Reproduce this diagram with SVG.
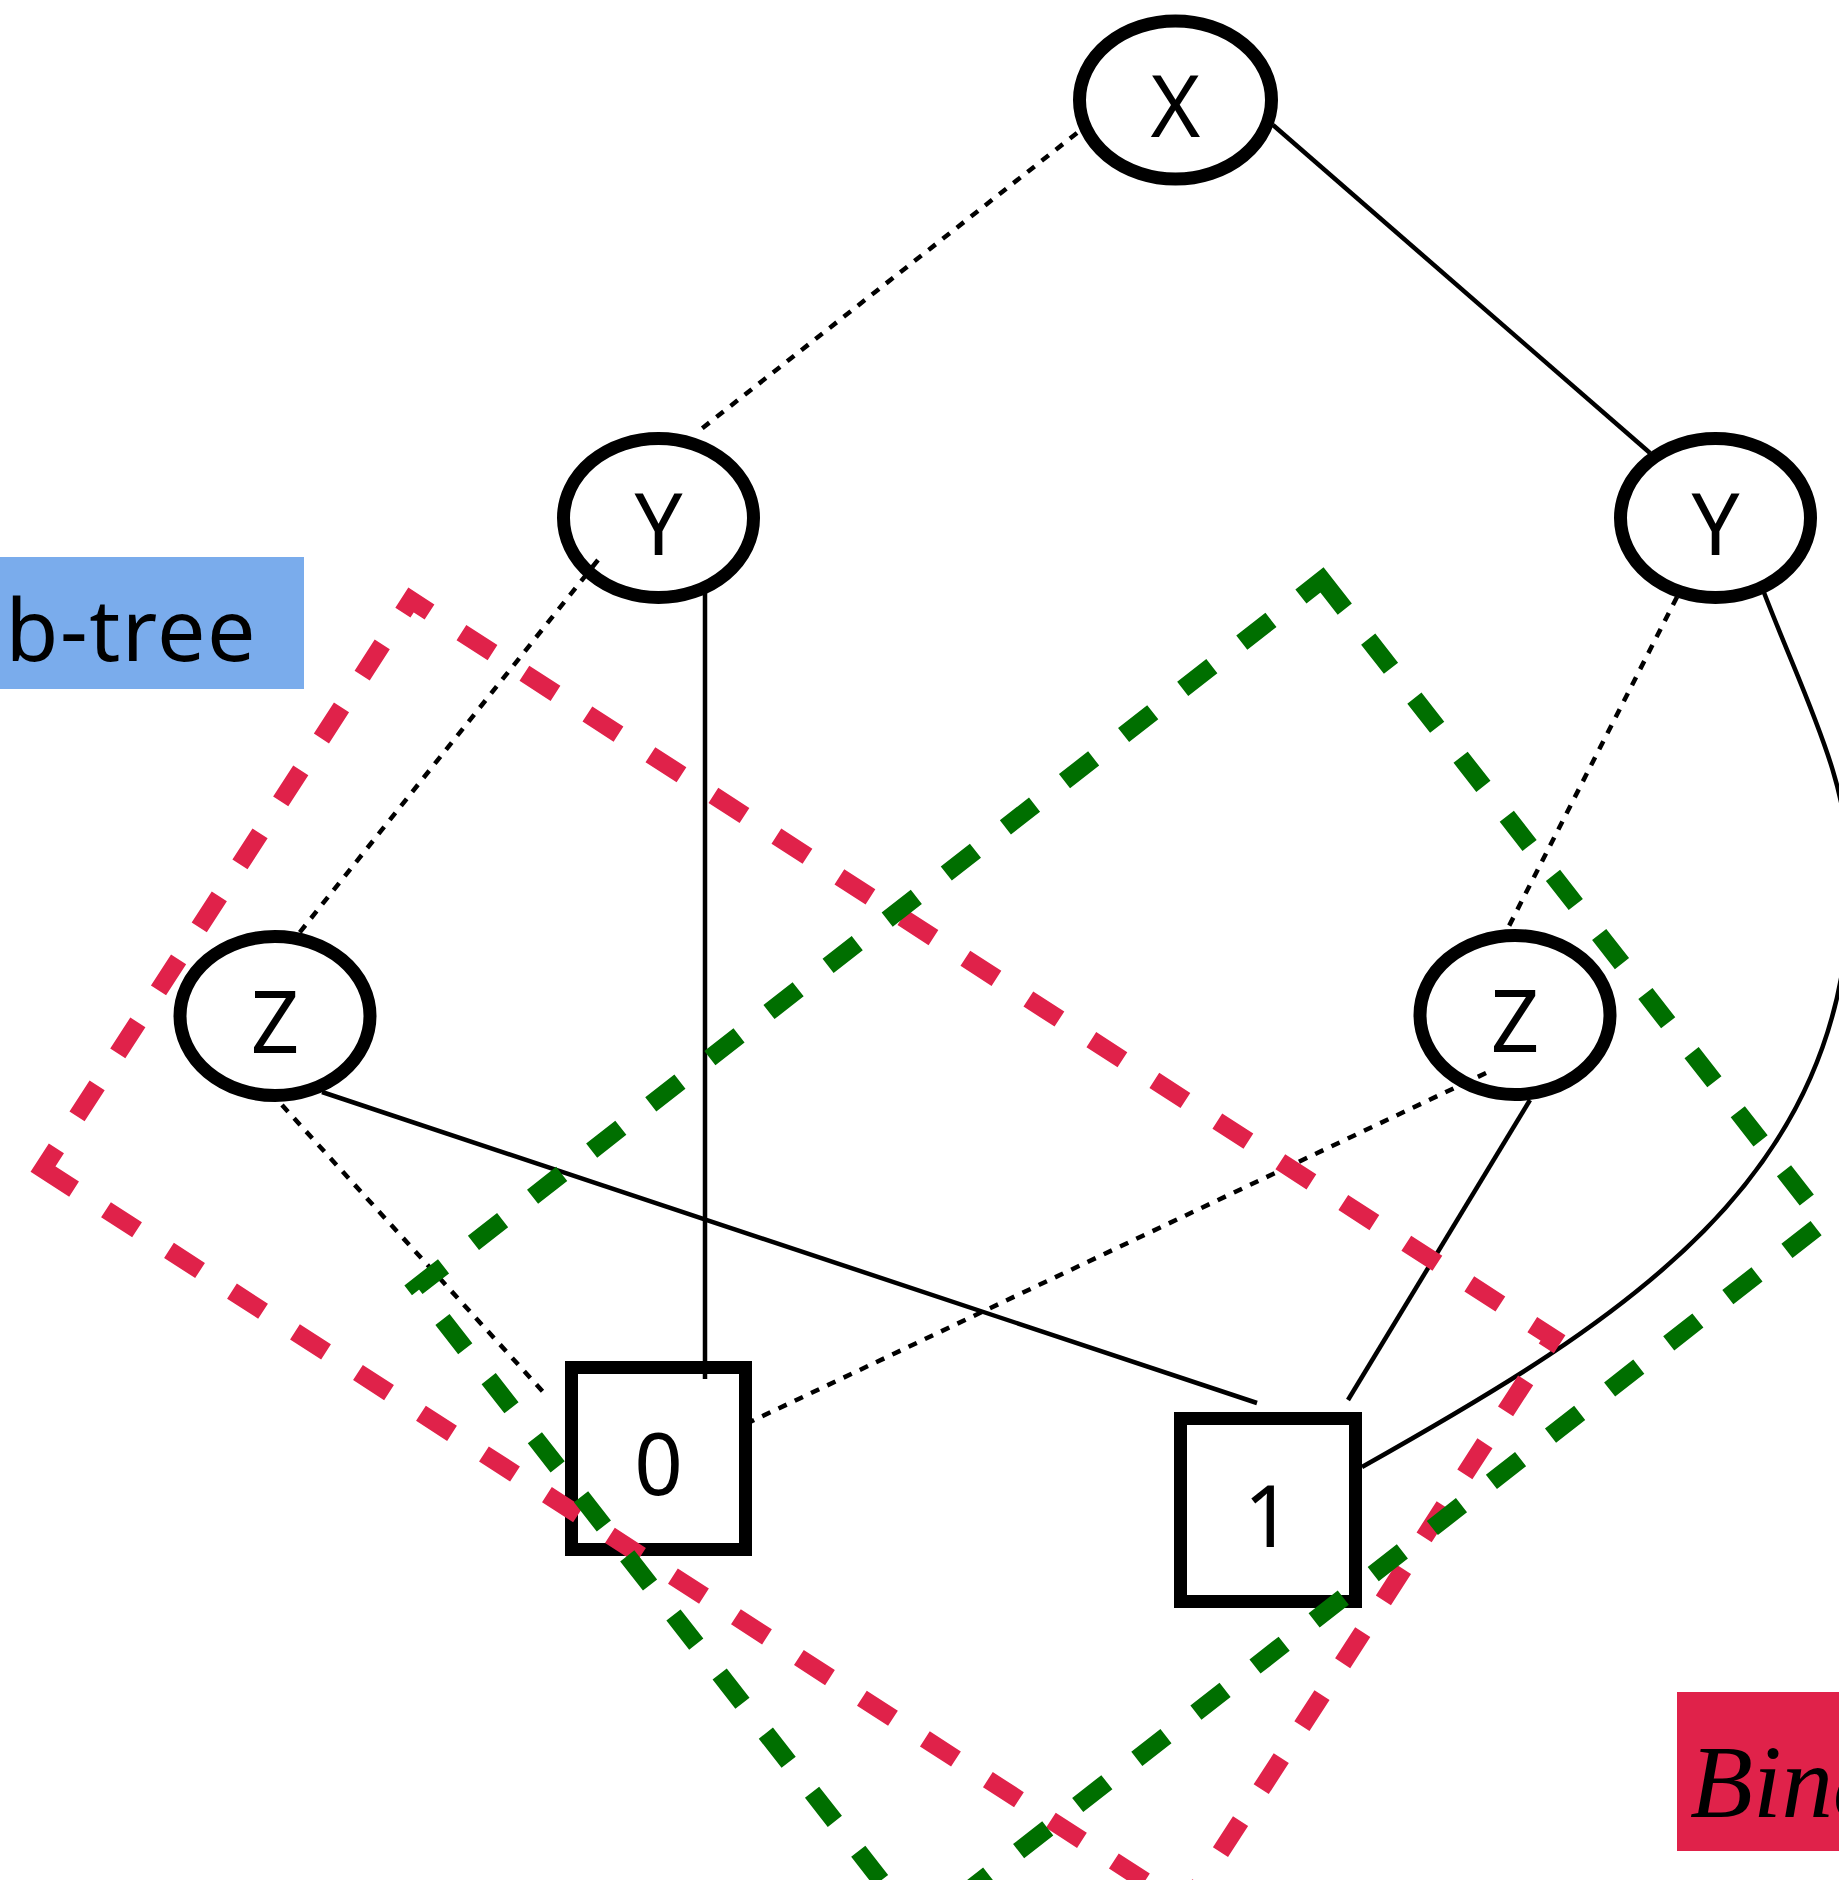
<svg xmlns="http://www.w3.org/2000/svg" width="1839" height="1880" viewBox="0 0 1839 1880">
  <style>
    .node { fill: #ffffff; stroke: #000000; stroke-width: 13; }
    .lbl { font-family: "Noto Sans", "Liberation Sans", sans-serif; font-size: 85px; fill: #000000; text-anchor: middle; }
    .hi { fill: none; stroke: #000000; stroke-width: 4.5; }
    .lo { fill: none; stroke: #000000; stroke-width: 4.5; stroke-dasharray: 9 9; }
    .group { fill: none; stroke-width: 18; stroke-dasharray: 37 38; stroke-linecap: butt; stroke-linejoin: miter; }
  </style>

  <rect width="1839" height="1880" fill="#ffffff"/>

  <!-- decision nodes -->
  <g id="node-x"><ellipse class="node" cx="1175.5" cy="100" rx="96" ry="79"/><text class="lbl" x="1175.5" y="137">X</text></g>
  <g id="node-y-left"><ellipse class="node" cx="658.5" cy="518" rx="95" ry="79.5"/><text class="lbl" x="658.5" y="555">Y</text></g>
  <g id="node-y-right"><ellipse class="node" cx="1715.5" cy="518" rx="95" ry="79.5"/><text class="lbl" x="1715.5" y="555">Y</text></g>
  <g id="node-z-left"><ellipse class="node" cx="275" cy="1016" rx="95" ry="79.5"/><text class="lbl" x="275" y="1053">Z</text></g>
  <g id="node-z-right"><ellipse class="node" cx="1515" cy="1015" rx="95" ry="79.5"/><text class="lbl" x="1515" y="1052">Z</text></g>

  <!-- terminal nodes -->
  <g id="terminal-0"><rect class="node" x="571.5" y="1367.5" width="174" height="182"/><text class="lbl" x="658.5" y="1495">0</text></g>
  <g id="terminal-1"><rect class="node" x="1180.5" y="1418.5" width="175" height="183"/><text class="lbl" x="1268" y="1547">1</text></g>

  <!-- edges: dotted = low (0) branch, solid = high (1) branch -->
  <g id="edges">
    <line class="lo" x1="1077" y1="133" x2="700" y2="430"/>
    <line class="hi" x1="1273" y1="125" x2="1650" y2="453"/>
    <line class="lo" x1="598" y1="560" x2="292" y2="942"/>
    <line class="hi" x1="705" y1="593" x2="705" y2="1379"/>
    <line class="lo" x1="1677" y1="597" x2="1508" y2="928"/>
    <path class="hi" d="M1763,590 C1806,702 1850,780 1850,880 C1850,1180 1623,1320 1362,1467"/>
    <line class="lo" x1="282" y1="1105" x2="545" y2="1394"/>
    <line class="hi" x1="322" y1="1092" x2="1257" y2="1403"/>
    <line class="lo" x1="1486" y1="1073" x2="750" y2="1422"/>
    <line class="hi" x1="1530" y1="1100" x2="1348" y2="1400"/>
  </g>

  <!-- highlighted regions -->
  <g id="highlights">
    <path class="group" stroke="#e0224a" d="M43,1169 L1185,1907 L1553,1338 L411,600 Z"/>
    <path class="group" stroke="#006f00" d="M1322,580 L1824,1222 L919,1929 L417,1287 Z"/>
  </g>

  <!-- captions -->
  <g id="label-subtree">
    <rect x="-10" y="557" width="314" height="132" fill="#7aacec"/>
    <text x="257" y="661" font-family="Noto Sans, Liberation Sans, sans-serif" font-size="86" letter-spacing="1.5" text-anchor="end" fill="#000000">Sub-tree</text>
  </g>
  <g id="label-bdd">
    <rect x="1677" y="1692" width="400" height="159" fill="#e0224a"/>
    <text x="1690" y="1817" font-family="Liberation Serif, serif" font-style="italic" font-size="103" fill="#000000">Binary Decision Diagram</text>
  </g>
</svg>
